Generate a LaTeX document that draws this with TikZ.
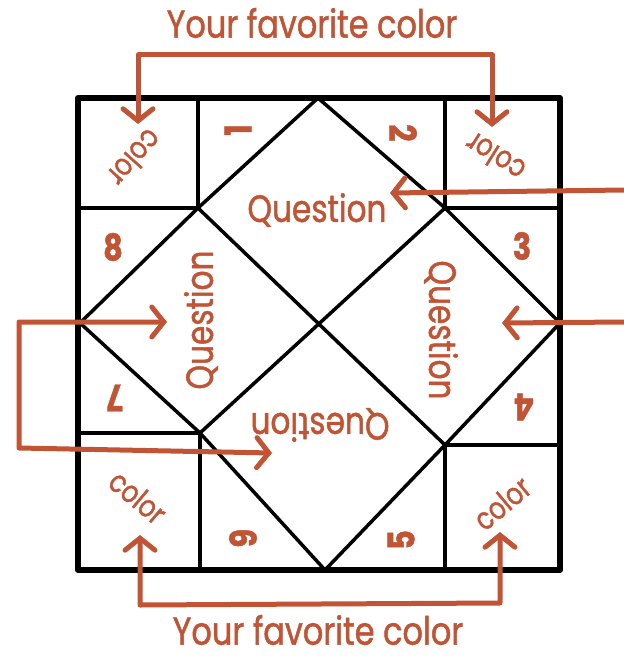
\documentclass[tikz,border=0pt]{standalone}
\usepackage{fontspec}
\setmainfont{Poppins}[FakeStretch=0.82, FakeBold=1.2]
\usetikzlibrary{arrows.meta}
\definecolor{rust}{RGB}{192,84,52}
\tikzset{
  title/.style={text=rust, inner sep=0pt, font=\fontsize{39}{39}\selectfont},
  qlbl/.style={text=rust, inner sep=0pt, font=\fontsize{38}{38}\selectfont},
  clbl/.style={text=rust, inner sep=0pt, font=\fontsize{31}{31}\selectfont},
  num/.style={text=rust, inner sep=0pt, font=\fontsize{37}{37}\selectfont\bfseries},
  border/.style={line width=6pt, line join=round, line cap=round},
  fold/.style={line width=3.5pt, line join=round, line cap=round},
  arr/.style={draw=rust, line width=5pt, line cap=round, line join=round,
    -{Straight Barb[length=12pt, width=30pt, line cap=round]}},
  darr/.style={draw=rust, line width=5pt, line cap=round, line join=round,
    {Straight Barb[length=12pt, width=30pt, line cap=round]}-{Straight Barb[length=12pt, width=30pt, line cap=round]}},
}
\begin{document}
\begin{tikzpicture}[x=1pt,y=-1pt]
\useasboundingbox (0,0) rectangle (623,660);
% outer square corners
\coordinate (TL) at (78,98);
\coordinate (TR) at (560,98);
\coordinate (BR) at (560,570);
\coordinate (BL) at (78,570);
% inner corners
\coordinate (A) at (198,208);
\coordinate (B) at (445,208);
\coordinate (C) at (445,445);
\coordinate (D) at (200,433);
% diamond vertices
\coordinate (Dt) at (318,98);
\coordinate (Dr) at (560,323);
\coordinate (Db) at (325,570);
\coordinate (Dl) at (80,323);
% corner-square edges
\draw[fold] (A |- TL) -- (A) -- (A -| TL);
\draw[fold] (B |- TR) -- (B) -- (B -| TR);
\draw[fold] (C -| BR) -- (C) -- (C |- BR);
\draw[fold] (D -| BL) -- (D) -- (D |- BL);
% diamond and diagonals
\draw[fold] (Dt) -- (B) -- (Dr) -- (C) -- (Db) -- (D) -- (Dl) -- (A) -- cycle;
\draw[fold] (A) -- (C);
\draw[fold] (B) -- (D);
% outer border
\draw[border] (TL) -- (TR) -- (BR) -- (BL) -- cycle;

% texts
\node[title] (t1) at (312,23) {Your favorite color};
\node[title] (t2) at (318,630) {Your favorite color};
\node[qlbl] (q1) at (317,210) {Question};
\node[qlbl, rotate=90] (q2) at (201,320) {Question};
\node[qlbl, rotate=-90] (q3) at (441,330) {Question};
\node[qlbl, rotate=180] (q4) at (320,425) {Question};
\node[clbl, rotate=-132] (c1) at (135,158) {color};
\node[clbl, rotate=148] (c2) at (495,157) {color};
\node[clbl, rotate=-40] (c3) at (138,497) {color};
\node[clbl, rotate=40] (c4) at (502,503) {color};
\node[num, rotate=90] (n1) at (238,130) {1};
\node[num, rotate=-90] (n2) at (403,133) {2};
\node[num] (n3) at (522,246) {3};
\node[num, rotate=180] (n4) at (524,407) {4};
\node[num, rotate=90] (n5) at (401,540) {5};
\node[num, rotate=-90] (n6) at (243,538) {6};
\node[num, rotate=180] (n7) at (115,398) {7};
\node[num] (n8) at (113,247) {8};

% arrow points
\coordinate (a1) at (138,124);
\coordinate (a2) at (492,127);
\coordinate (a3) at (140,535);
\coordinate (a4) at (500,532);
\coordinate (r1s) at (625,190);
\coordinate (r1e) at (390,193);
\coordinate (r2s) at (625,322);
\coordinate (r2e) at (502,323);
\coordinate (l1) at (167,322);
\coordinate (l2) at (272,453);

\draw[darr] (a1) -- (138,55) -- (492,55) -- (a2);
\draw[darr] (a3) -- (140,605) -- (500,603) -- (a4);
\draw[arr] (r1s) -- (r1e);
\draw[arr] (r2s) -- (r2e);
\draw[darr] (l1) -- (19,322) -- (19,448) -- (l2);
\end{tikzpicture}
\end{document}
